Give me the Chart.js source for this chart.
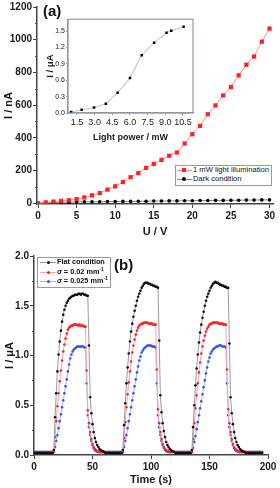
<!DOCTYPE html>
<html><head><meta charset="utf-8">
<script src="https://cdn.jsdelivr.net/npm/chart.js@4.4.0/dist/chart.umd.min.js"></script>
<style>
html,body{margin:0;padding:0;background:#fff;}
#wrap{position:relative;width:280px;height:488px;overflow:hidden;font-family:"Liberation Sans",Arial,sans-serif;color:#111;}
canvas{position:absolute;}
#cTop{left:0;top:0;}
#cInset{left:44px;top:14px;}
#cBot{left:0;top:240px;}
.lbl{position:absolute;font-weight:bold;color:#111;line-height:1;}
.legend{position:absolute;border:1px solid #9a9a9a;background:#fff;box-sizing:border-box;}
.ln{position:absolute;height:1px;}
.mk{position:absolute;}
.tx{position:absolute;white-space:nowrap;line-height:10px;height:10px;}
</style>
</head><body>
<div id="wrap">
<canvas id="cTop" width="280" height="240"></canvas>
<canvas id="cInset" width="156" height="134"></canvas>
<canvas id="cBot" width="280" height="248"></canvas>
<div class="lbl" style="left:43px;top:3px;font-size:15px;">(a)</div>
<div class="lbl" style="left:114px;top:257px;font-size:15px;">(b)</div>

<div class="legend" style="left:175px;top:165px;width:97px;height:21px;">
  <div class="ln" style="left:1px;top:4px;width:15px;background:#ff8a8a;"></div>
  <div class="mk" style="left:6px;top:2px;width:4px;height:4px;background:#f22;"></div>
  <div class="tx" style="left:17px;top:-1px;font-size:7.6px;">1 mW light illumination</div>
  <div class="ln" style="left:1px;top:13px;width:15px;background:#888;"></div>
  <div class="mk" style="left:6px;top:11px;width:4px;height:4px;border-radius:50%;background:#000;"></div>
  <div class="tx" style="left:17px;top:8px;font-size:7.6px;">Dark condition</div>
</div>

<div class="legend" style="left:37px;top:257px;width:74px;height:31px;">
  <div class="ln" style="left:2px;top:4px;width:16px;background:#999;"></div>
  <div class="mk" style="left:9px;top:3px;width:3px;height:3px;border-radius:50%;background:#111;"></div>
  <div class="tx" style="left:19px;top:-1px;font-size:7.3px;font-weight:bold;">Flat condition</div>
  <div class="ln" style="left:2px;top:14px;width:16px;background:#f7a0b8;"></div>
  <div class="mk" style="left:9px;top:13px;width:3px;height:3px;border-radius:50%;background:#f22;"></div>
  <div class="tx" style="left:19px;top:9px;font-size:7.3px;font-weight:bold;"><i>σ</i> = 0.02 mm<sup style="font-size:5px;line-height:0;">-1</sup></div>
  <div class="ln" style="left:2px;top:23px;width:16px;background:#a8b4f0;"></div>
  <div class="mk" style="left:9px;top:22px;width:3px;height:3px;border-radius:50%;background:#3355ee;"></div>
  <div class="tx" style="left:19px;top:18px;font-size:7.3px;font-weight:bold;"><i>σ</i> = 0.025 mm<sup style="font-size:5px;line-height:0;">-1</sup></div>
</div>
</div>
<script>
// ---------- data: panel (a) ----------
const voltage = [0,1,2,3,4,5,6,7,8,9,10,11,12,13,14,15,16,17,18,19,20,21,22,23,24,25,26,27,28,29,30];
const lightCurrent = [0,5,10,14,18,25,35,48,62,83,103,129,159,184,216,240,265,290,310,365,422,473,544,598,659,711,782,847,897,988,1068];
const darkCurrent = [0,2,4,5,6,7,8,8,9,10,10,11,11,12,12,13,13,14,14,15,15,16,16,17,17,18,18,19,19,20,20];
const topXTicks = [0,5,10,15,20,25,30];
const topYTicks = [0,200,400,600,800,1000,1200];
const topYMinor = [100,300,500,700,900,1100];

// ---------- data: inset ----------
const insetPower = [1,1.9,2.95,3.95,4.95,6.0,7.0,8.05,9.1,9.5,10.55];
const insetCurrent = [0.02,0.06,0.10,0.17,0.37,0.64,1.06,1.29,1.47,1.51,1.58];
const insetXTicks = [1.5,3.0,4.5,6.0,7.5,9.0,10.5];
const insetYTicks = [0,0.3,0.6,0.9,1.2,1.5];

// ---------- data: panel (b) ----------
const time = Array.from({length:196},(_,i)=>i);
const flatCurrent = [
0.02,0.02,0.02,0.02,0.02,0.02,0.02,0.02,0.02,0.02,0.02,0.02,0.02,0.02,0.02,0.02,0.02,
0.05,
0.38,0.62,0.84,1.01,1.14,1.25,1.34,1.41,1.46,1.50,1.53,1.55,1.57,1.58,1.59,1.60,1.60,1.61,1.61,1.61,1.62,1.62,1.61,1.62,1.62,1.61,1.61,1.60,1.60,
1.10,0.58,0.42,0.31,0.23,0.17,0.13,0.10,0.08,0.06,0.05,0.04,0.035,0.03,
0.02,0.02,0.02,0.02,0.02,0.02,0.02,0.02,0.02,0.02,0.02,0.02,0.02,0.02,0.02,
0.05,0.30,0.52,0.72,0.88,1.02,1.14,1.24,1.32,1.39,1.45,1.50,1.55,1.59,1.62,1.65,1.68,1.70,1.72,1.73,1.73,1.73,1.72,1.72,1.71,1.71,1.70,1.70,1.69,1.69,1.68,
1.15,0.60,0.43,0.32,0.24,0.18,0.13,0.10,0.08,0.06,0.05,0.04,0.035,0.03,
0.02,0.02,0.02,0.02,0.02,0.02,0.02,0.02,0.02,0.02,0.02,0.02,0.02,0.02,
0.05,0.28,0.50,0.70,0.87,1.01,1.13,1.23,1.31,1.38,1.44,1.50,1.55,1.59,1.62,1.65,1.68,1.70,1.72,1.73,1.74,1.73,1.73,1.72,1.71,1.71,1.70,1.70,1.69,1.69,1.68,1.68,
1.12,0.58,0.42,0.31,0.23,0.17,0.13,0.10,0.08,0.06,0.05,0.04,0.035,0.03,
0.02,0.02,0.02,0.02,0.02,0.02,0.02,0.02,0.02,0.02,0.02,0.02,0.02,0.02,0.02];
const sigma002Current = [
0.03,0.03,0.03,0.03,0.03,0.03,0.03,0.03,0.03,0.03,0.03,0.03,0.03,0.03,0.03,0.03,0.03,
0.03,0.18,0.34,0.49,0.62,0.74,0.85,0.95,1.04,1.11,1.17,1.22,1.26,1.28,1.29,1.30,1.30,1.31,1.31,1.31,1.31,1.30,1.31,1.30,1.30,1.30,1.29,1.29,
0.85,0.45,0.32,0.23,0.16,0.11,0.08,0.06,0.05,0.04,0.035,
0.03,0.03,0.03,0.03,0.03,0.03,0.03,0.03,0.03,0.03,0.03,0.03,0.03,0.03,0.03,0.03,0.03,0.03,0.03,0.03,
0.03,0.17,0.33,0.48,0.61,0.73,0.84,0.94,1.03,1.10,1.16,1.21,1.25,1.28,1.30,1.31,1.32,1.32,1.33,1.33,1.33,1.33,1.32,1.32,1.32,1.32,1.31,1.31,1.31,
0.86,0.46,0.32,0.23,0.16,0.11,0.08,0.06,0.05,0.04,0.035,
0.03,0.03,0.03,0.03,0.03,0.03,0.03,0.03,0.03,0.03,0.03,0.03,0.03,0.03,0.03,0.03,0.03,0.03,0.03,
0.03,0.16,0.32,0.47,0.60,0.72,0.83,0.93,1.02,1.09,1.15,1.20,1.24,1.27,1.29,1.31,1.32,1.32,1.33,1.33,1.33,1.33,1.33,1.32,1.32,1.32,1.32,1.31,1.31,1.31,
0.86,0.46,0.32,0.23,0.16,0.11,0.08,0.06,0.05,0.04,0.035,
0.03,0.03,0.03,0.03,0.03,0.03,0.03,0.03,0.03,0.03,0.03,0.03,0.03,0.03,0.03,0.03,0.03,0.03,0.03,0.03];
const sigma0025Current = [
0.03,0.03,0.03,0.03,0.03,0.03,0.03,0.03,0.03,0.03,0.03,0.03,0.03,0.03,0.03,0.03,0.03,
0.03,0.08,0.14,0.20,0.27,0.34,0.41,0.48,0.55,0.62,0.69,0.76,0.84,0.91,0.97,1.01,1.04,1.06,1.07,1.08,1.09,1.09,1.09,1.09,1.09,1.09,1.08,1.08,
0.72,0.40,0.28,0.20,0.14,0.10,0.07,0.05,0.04,0.035,0.03,
0.03,0.03,0.03,0.03,0.03,0.03,0.03,0.03,0.03,0.03,0.03,0.03,0.03,0.03,0.03,0.03,0.03,0.03,0.03,0.03,
0.03,0.08,0.14,0.20,0.27,0.34,0.41,0.48,0.55,0.62,0.69,0.76,0.83,0.89,0.95,0.99,1.03,1.05,1.07,1.08,1.09,1.10,1.10,1.10,1.10,1.09,1.09,1.09,1.08,
0.72,0.40,0.28,0.20,0.14,0.10,0.07,0.05,0.04,0.035,0.03,
0.03,0.03,0.03,0.03,0.03,0.03,0.03,0.03,0.03,0.03,0.03,0.03,0.03,0.03,0.03,0.03,0.03,0.03,0.03,
0.03,0.07,0.13,0.19,0.26,0.33,0.40,0.47,0.54,0.61,0.68,0.75,0.82,0.88,0.94,0.98,1.02,1.04,1.06,1.07,1.08,1.09,1.09,1.10,1.10,1.10,1.09,1.09,1.09,1.08,
0.72,0.40,0.28,0.20,0.14,0.10,0.07,0.05,0.04,0.035,0.03,
0.03,0.03,0.03,0.03,0.03,0.03,0.03,0.03,0.03,0.03,0.03,0.03,0.03,0.03,0.03,0.03,0.03,0.03,0.03,0.03];
const botXTicks = [0,50,100,150,200];
const botYTicks = [0,0.5,1.0,1.5,2.0];
const botYMinor = [0.25,0.75,1.25,1.75];

// ---------- helpers ----------
const FAM = "'Liberation Sans', Arial, sans-serif";
const AX = '#444';
const TXT = '#1a1a1a';
const pts = (xs, ys) => xs.map((x,i)=>({x:x, y:ys[i]}));
const setTicks = arr => s => { s.ticks = arr.map(v=>({value:v})); };
const plain = v => String(v);
const fix1 = v => Number(v).toFixed(1);

const minorPlugin = {
  id:'minorTicks',
  afterDraw(chart, args, opts){
    const ctx = chart.ctx;
    ctx.save();
    ctx.strokeStyle = AX; ctx.lineWidth = 1;
    (opts.items||[]).forEach(it=>{
      const s = chart.scales[it.axis];
      it.values.forEach(v=>{
        const p = Math.round(s.getPixelForValue(v)) + 0.5;
        ctx.beginPath();
        if (s.isHorizontal()) { ctx.moveTo(p, s.top); ctx.lineTo(p, s.top + it.len); }
        else { ctx.moveTo(s.right - it.len, p); ctx.lineTo(s.right, p); }
        ctx.stroke();
      });
    });
    ctx.restore();
  }
};
const boxPlugin = {
  id:'insetBox',
  beforeDraw(chart){
    const {ctx, chartArea:a} = chart;
    ctx.save(); ctx.fillStyle = '#fff';
    ctx.fillRect(a.left, a.top, a.right-a.left, a.bottom-a.top);
    ctx.restore();
  },
  afterDraw(chart){
    const {ctx, chartArea:a} = chart;
    ctx.save(); ctx.strokeStyle = '#8c9ca4'; ctx.lineWidth = 1.2;
    ctx.strokeRect(a.left, a.top, a.right-a.left, a.bottom-a.top);
    ctx.restore();
  }
};

function axisCommon(extra){
  return Object.assign({
    type:'linear',
    grid:{drawOnChartArea:false, drawTicks:true, tickLength:4, color:AX, tickColor:AX, tickWidth:1},
    border:{display:true, color:AX, width:1.5},
    ticks:{color:TXT, font:{family:FAM, size:10, weight:'bold'}, padding:2, autoSkip:false, maxRotation:0, callback:plain}
  }, extra);
}

// ---------- panel (a) ----------
new Chart(document.getElementById('cTop'), {
  type:'line',
  data:{datasets:[
    {label:'1 mW light illumination', data:pts(voltage, lightCurrent), borderColor:'#ff8a8a', borderWidth:1,
     pointStyle:'rect', pointRadius:3, pointBackgroundColor:'#f22', pointBorderColor:'#f22', pointBorderWidth:0},
    {label:'Dark condition', data:pts(voltage, darkCurrent), borderColor:'#888', borderWidth:1,
     pointStyle:'circle', pointRadius:1.8, pointBackgroundColor:'#000', pointBorderColor:'#000', pointBorderWidth:0}
  ]},
  options:{
    responsive:false, animation:false, events:[],
    layout:{padding:{left:0, right:7, top:5, bottom:0}},
    plugins:{legend:{display:false}, tooltip:{enabled:false},
      minorTicks:{items:[{axis:'y', values:topYMinor, len:2}]}},
    scales:{
      x: axisCommon({min:-0.13, max:30.45, afterBuildTicks:setTicks(topXTicks), afterFit:s=>{s.height=36;},
        title:{display:true, text:'U / V', color:TXT, font:{family:FAM, size:11, weight:'bold'}, padding:{top:0, bottom:1}}}),
      y: axisCommon({min:-5, max:1200, afterBuildTicks:setTicks(topYTicks), afterFit:s=>{s.width=37;},
        ticks:{color:TXT, font:{family:FAM, size:10, weight:'bold'}, padding:1, callback:plain},
        title:{display:true, text:'I / nA', color:TXT, font:{family:FAM, size:11, weight:'bold'}, padding:{top:2, bottom:0}}})
    }
  },
  plugins:[minorPlugin]
});

// ---------- inset ----------
new Chart(document.getElementById('cInset'), {
  type:'line',
  data:{datasets:[
    {data:pts(insetPower, insetCurrent), borderColor:'#c3ccd0', borderWidth:1.2,
     pointStyle:'rect', pointRadius:1.8, pointBackgroundColor:'#000', pointBorderColor:'#000', pointBorderWidth:0}
  ]},
  options:{
    responsive:false, animation:false, events:[],
    layout:{padding:{left:0, right:7, top:5, bottom:0}},
    plugins:{legend:{display:false}, tooltip:{enabled:false}},
    scales:{
      x:{type:'linear', min:0.74, max:11.35, afterBuildTicks:setTicks(insetXTicks), afterFit:s=>{s.height=35;},
        grid:{drawOnChartArea:false, tickLength:2, color:'#8c9ca4', tickColor:'#8c9ca4'},
        border:{display:true, color:'#8c9ca4', width:1.2},
        ticks:{color:TXT, font:{family:FAM, size:9}, padding:2, autoSkip:false, maxRotation:0, callback:fix1},
        title:{display:true, text:'Light power / mW', color:TXT, font:{family:FAM, size:9, weight:'bold'}, padding:{top:0, bottom:5}}},
      y:{type:'linear', min:0, max:1.72, afterBuildTicks:setTicks(insetYTicks), afterFit:s=>{s.width=24;},
        grid:{drawOnChartArea:false, tickLength:2, color:'#8c9ca4', tickColor:'#8c9ca4'},
        border:{display:true, color:'#8c9ca4', width:1.2},
        ticks:{color:TXT, font:{family:FAM, size:7}, padding:1, autoSkip:false, callback:fix1},
        title:{display:true, text:'I / μA', color:TXT, font:{family:FAM, size:9.5, weight:'bold'}, padding:{top:0.5, bottom:0}}}
    }
  },
  plugins:[boxPlugin]
});

// ---------- panel (b) ----------
const mkSeries = (label, ys, line, dot) => ({label, data:pts(time, ys), borderColor:line, borderWidth:1,
  pointStyle:'circle', pointRadius:1.3, pointBackgroundColor:dot, pointBorderColor:dot, pointBorderWidth:0});
new Chart(document.getElementById('cBot'), {
  type:'line',
  data:{datasets:[
    mkSeries('Flat condition', flatCurrent, '#9a9a9a', '#111'),
    mkSeries('σ = 0.02 mm-1', sigma002Current, '#f7a0b8', '#f22'),
    mkSeries('σ = 0.025 mm-1', sigma0025Current, '#a8b4f0', '#3355ee')
  ]},
  options:{
    responsive:false, animation:false, events:[],
    layout:{padding:{left:0, right:12, top:16, bottom:0}},
    plugins:{legend:{display:false}, tooltip:{enabled:false},
      minorTicks:{items:[{axis:'y', values:botYMinor, len:2}]}},
    scales:{
      x: axisCommon({min:0, max:200, afterBuildTicks:setTicks(botXTicks), afterFit:s=>{s.height=33;},
        title:{display:true, text:'Time (s)', color:TXT, font:{family:FAM, size:11, weight:'bold'}, padding:{top:0, bottom:1}}}),
      y: axisCommon({min:0, max:2.0, afterBuildTicks:setTicks(botYTicks), afterFit:s=>{s.width=34;},
        ticks:{color:TXT, font:{family:FAM, size:10, weight:'bold'}, padding:1, callback:fix1},
        title:{display:true, text:'I / μA', color:TXT, font:{family:FAM, size:11, weight:'bold'}, padding:{top:3, bottom:0}}})
    }
  },
  plugins:[minorPlugin]
});
</script>
</body></html>
